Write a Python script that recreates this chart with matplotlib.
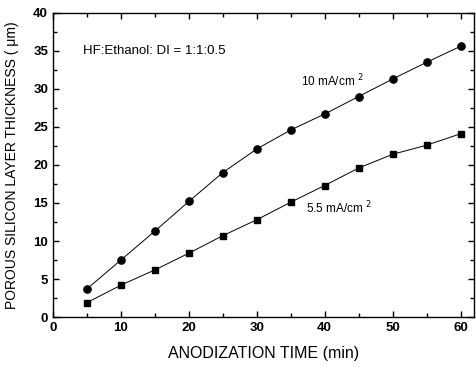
import matplotlib
matplotlib.use("Agg")
import matplotlib.pyplot as plt
from matplotlib.ticker import MultipleLocator

time_min = [5, 10, 15, 20, 25, 30, 35, 40, 45, 50, 55, 60]
thick_10 = [3.7, 7.5, 11.3, 15.2, 19.0, 22.1, 24.6, 26.7, 29.0, 31.3, 33.5, 35.6]
thick_55 = [1.9, 4.2, 6.2, 8.4, 10.7, 12.8, 15.1, 17.3, 19.6, 21.4, 22.6, 24.1]

plt.rcParams['font.family'] = ['Liberation Sans', 'DejaVu Sans']

fig = plt.figure(figsize=(4.77, 3.67), dpi=100)
ax = fig.add_axes([0.111, 0.136, 0.883, 0.829])

ax.plot(time_min, thick_10, color='black', lw=0.7, marker='o', ms=5.2)
ax.plot(time_min, thick_55, color='black', lw=0.7, marker='s', ms=5.0)

ax.set_xlim(0, 62)
ax.set_ylim(0, 40)
ax.xaxis.set_major_locator(MultipleLocator(10))
ax.xaxis.set_minor_locator(MultipleLocator(5))
ax.yaxis.set_major_locator(MultipleLocator(5))
ax.yaxis.set_minor_locator(MultipleLocator(2.5))
ax.tick_params(which='both', direction='in', top=True, right=True, width=1.0, labelsize=9.5)
ax.tick_params(which='major', length=4)
ax.tick_params(which='minor', length=3)
for lab in ax.get_xticklabels() + ax.get_yticklabels():
    lab.set_fontweight('bold')
for s in ax.spines.values():
    s.set_linewidth(1.0)

ax.set_xlabel('ANODIZATION TIME (min)', fontsize=11.5, labelpad=9)
ax.set_ylabel('POROUS SILICON LAYER THICKNESS ( μm)', fontsize=10, labelpad=10)

ax.text(4.4, 35, 'HF:Ethanol: DI = 1:1:0.5', fontsize=9.5, va='center', ha='left')
ax.text(36.5, 31.0, '10 mA/cm $^2$', fontsize=8.5, va='center', ha='left')
ax.text(37.3, 14.4, '5.5 mA/cm $^2$', fontsize=8.5, va='center', ha='left')

fig.savefig('out.png', dpi=100)
